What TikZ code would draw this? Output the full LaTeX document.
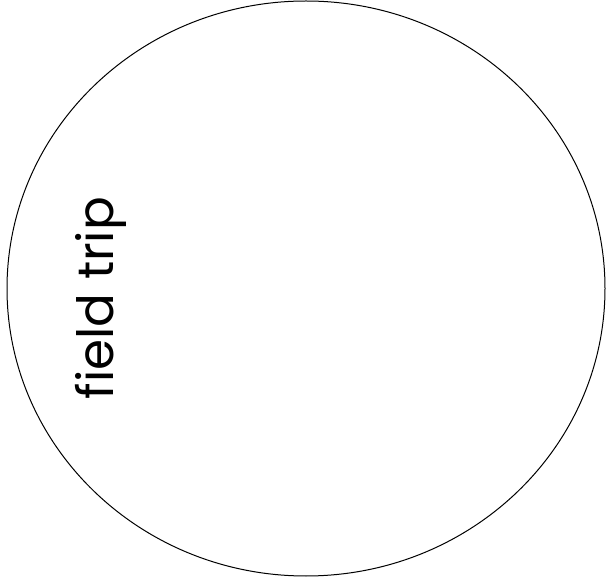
\documentclass[tikz,border=0pt]{standalone}
\usepackage{fontspec}
\setmainfont{Poppins}
\usetikzlibrary{shapes.geometric}
\begin{document}
\begin{tikzpicture}[x=1pt,y=1pt]
\useasboundingbox (0,0) rectangle (606,582);
\node[draw, ellipse, minimum width=598pt, minimum height=575pt, inner sep=0pt, line width=1pt] (c) at (306,293.5) {};
\node[rotate=90, font=\fontsize{50}{54}\selectfont] (t) at (101,284) {field trip};
\end{tikzpicture}
\end{document}
